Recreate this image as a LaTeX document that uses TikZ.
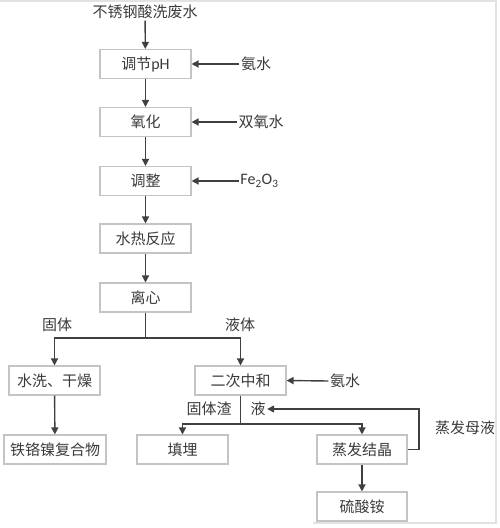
\documentclass[tikz,border=0pt]{standalone}
\usepackage{fontspec}
\setmainfont{Noto Sans CJK SC}
\newfontfamily\latinf{Carlito}
\usetikzlibrary{arrows.meta}
\definecolor{txt}{HTML}{3A3A3A}
\definecolor{arrc}{HTML}{404040}
\definecolor{boxc}{HTML}{C4C4C4}
\definecolor{framec}{HTML}{E2E2E2}
\tikzset{
  stepbox/.style={draw=boxc, line width=1.1pt, minimum width=91pt, minimum height=29pt, inner sep=0pt, text=txt, font=\fontsize{15}{18}\selectfont},
  lbl/.style={text=txt, inner sep=1.5pt, font=\fontsize{15}{18}\selectfont},
  arr/.style={draw=arrc, line width=1.4pt, -{Triangle[length=7pt,width=7pt]}},
  ln/.style={draw=arrc, line width=1.4pt},
}
\begin{document}
\begin{tikzpicture}[x=1pt,y=-1pt]
\useasboundingbox (0,0) rectangle (500,528);
% faint frame
\draw[framec, line width=1.5pt] (0,1) -- (496,1) -- (496,523) -- (313,523);
% main column
\node[lbl] (src) at (145,12) {不锈钢酸洗废水};
\node[stepbox] (b1) at (145.5,64) {调节{\latinf\fontsize{16}{18}\selectfont pH}};
\node[stepbox] (b2) at (145.5,122) {氧化};
\node[stepbox] (b3) at (145.5,181) {调整};
\node[stepbox] (b4) at (145.5,238.5) {水热反应};
\node[stepbox] (b5) at (145.5,297.5) {离心};
\node[lbl] (a1) at (256,64) {氨水};
\node[lbl] (a2) at (261,122) {双氧水};
\node[lbl] (a3) at (259.5,181) {\latinf\fontsize{16}{18}\selectfont Fe\textsubscript{2}O\textsubscript{3}};
\draw[arr] (src) -- (b1);
\draw[arr] (b1) -- (b2);
\draw[arr] (b2) -- (b3);
\draw[arr] (b3) -- (b4);
\draw[arr] (b4) -- (b5);
\draw[arr] (a1.west) -- (b1.east);
\draw[arr] (a2.west) -- (b2.east);
\draw[arr] (a3.west) -- (b3.east);
% branch
\node[stepbox] (b6) at (54.5,380.5) {水洗、干燥};
\node[stepbox, minimum width=102pt] (b7) at (55,449.5) {铁铬镍复合物};
\node[stepbox] (b8) at (240.5,380.5) {二次中和};
\node[stepbox] (b9) at (182.5,449.5) {填埋};
\node[stepbox, minimum width=90pt] (b10) at (362,449.5) {蒸发结晶};
\node[stepbox, minimum width=90pt] (b11) at (362,506.5) {硫酸铵};
\node[lbl] (l1) at (57,325) {固体};
\node[lbl] (l2) at (240,325) {液体};
\node[lbl] (a4) at (345,381) {氨水};
\node[lbl] (l3) at (209,409) {固体渣};
\node[lbl] (l4) at (258,409) {液};
\node[lbl] (l5) at (465,428) {蒸发母液};
\coordinate (j1) at (145.5,338);
\coordinate (j2) at (240.5,424);
\draw[ln] (b5.south) -- (j1);
\draw[arr] (j1) -| (b6.north);
\draw[arr] (j1) -| (b8.north);
\draw[arr] (b6) -- (b7);
\draw[arr] (a4.west) -- (b8.east);
\draw[ln] (b8.south) -- (j2);
\draw[arr] (j2) -| (b9.north);
\draw[arr] (j2) -| (b10.north);
\draw[arr] (b10) -- (b11);
\coordinate (fb) at (419,409);
\draw[arr] (b10.east) -- (fb|-b10.east) -- (fb) -- (l4.east);
\end{tikzpicture}
\end{document}
